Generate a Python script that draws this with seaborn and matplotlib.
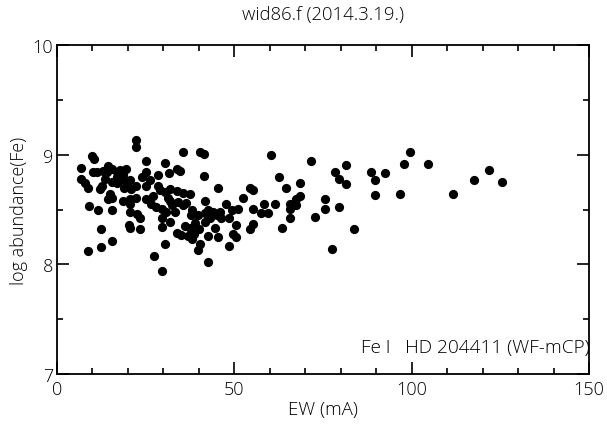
import matplotlib
matplotlib.use("Agg")
import matplotlib.pyplot as plt
import seaborn as sns
import pandas as pd
from matplotlib.ticker import MultipleLocator

ew = [22.4, 22.4, 9.8, 10.5, 6.7, 10.2, 11.2, 13.0, 14.4, 15.4, 14.0, 16.8, 17.7, 19.4, 25.2, 25.2,
      6.9, 7.9, 8.8, 12.1, 12.6, 17.7, 19.6, 20.5, 22.4, 21.0, 25.2, 13.5, 15.4, 16.8, 14.9, 15.4,
      14.4, 18.7, 20.5, 22.4, 25.2, 9.1, 11.6, 15.4, 20.5, 20.5, 22.6, 23.5, 12.4, 20.4, 20.5, 23.5,
      15.4, 12.4, 8.8,
      35.6, 40.4, 41.4, 30.4, 28.5, 31.6, 33.9, 34.6, 41.4, 45.4, 26.2, 28.5, 29.0, 30.4, 31.8, 33.7,
      35.6, 37.4, 31.3, 26.6, 28.0, 29.5, 30.7, 32.3, 33.2, 35.6, 36.5, 41.7, 47.6, 49.2, 51.0, 37.9,
      39.8, 41.7, 42.6, 43.5, 45.0, 46.3, 48.5, 41.7, 50.6, 29.5, 31.8, 29.5, 33.7, 35.1, 37.4, 37.0,
      38.6, 40.1, 38.2, 44.5, 42.6, 45.4, 49.6, 30.4, 40.2, 39.8, 48.5, 27.3, 42.6, 29.5,
      60.4, 71.5, 81.5, 62.6, 78.5, 79.6, 81.5, 54.5, 55.4, 68.6, 64.6, 52.4, 68.6, 67.5, 65.6, 65.6,
      67.5, 75.6, 75.6, 79.6, 58.5, 61.4, 55.4, 57.6, 59.5, 72.6, 65.6, 55.4, 54.5, 50.4, 63.5, 77.6,
      83.6, 88.6, 89.6, 92.6, 89.6, 99.6, 97.7, 104.6, 96.6, 111.6, 117.6, 121.7, 125.6,
      17.0, 18.5, 19.0, 24.0, 27.0, 32.0, 34.0, 38.0, 43.0, 44.0, 46.0, 36.0, 39.0]

abundance = [9.14, 9.07, 8.99, 8.96, 8.88, 8.84, 8.84, 8.85, 8.90, 8.87, 8.84, 8.84, 8.86, 8.87, 8.94, 8.84,
             8.78, 8.74, 8.70, 8.69, 8.72, 8.77, 8.75, 8.77, 8.72, 8.69, 8.72, 8.78, 8.75, 8.74, 8.64, 8.61,
             8.60, 8.58, 8.60, 8.61, 8.60, 8.53, 8.50, 8.50, 8.55, 8.48, 8.46, 8.42, 8.32, 8.36, 8.33, 8.32,
             8.21, 8.16, 8.12,
             9.03, 9.03, 9.01, 8.93, 8.82, 8.83, 8.87, 8.85, 8.81, 8.70, 8.77, 8.72, 8.68, 8.66, 8.69, 8.67,
             8.65, 8.64, 8.61, 8.55, 8.52, 8.51, 8.48, 8.54, 8.48, 8.54, 8.56, 8.58, 8.55, 8.50, 8.51, 8.45,
             8.45, 8.47, 8.50, 8.45, 8.45, 8.42, 8.42, 8.39, 8.36, 8.42, 8.39, 8.34, 8.29, 8.27, 8.33, 8.26,
             8.28, 8.32, 8.23, 8.33, 8.26, 8.25, 8.28, 8.19, 8.19, 8.13, 8.17, 8.08, 8.02, 7.94,
             9.00, 8.94, 8.91, 8.80, 8.84, 8.78, 8.73, 8.70, 8.68, 8.74, 8.70, 8.61, 8.62, 8.60, 8.55, 8.51,
             8.54, 8.60, 8.51, 8.52, 8.55, 8.55, 8.51, 8.47, 8.47, 8.43, 8.42, 8.37, 8.32, 8.25, 8.33, 8.14,
             8.32, 8.84, 8.77, 8.83, 8.63, 9.03, 8.92, 8.92, 8.64, 8.64, 8.77, 8.86, 8.75,
             8.80, 8.82, 8.70, 8.80, 8.62, 8.58, 8.57, 8.50, 8.42, 8.48, 8.48, 8.35, 8.38]

title = "wid86.f (2014.3.19.)"
xlabel = "EW (mA)"
ylabel = "log abundance(Fe)"
note = "Fe I   HD 204411 (WF-mCP)"
xticks = [0, 50, 100, 150]
yticks = [7, 8, 9, 10]

sns.set_theme(style="white")
plt.rcParams["font.family"] = ["Open Sans", "DejaVu Sans"]
plt.rcParams["font.weight"] = "light"
plt.rcParams["axes.titleweight"] = "light"
plt.rcParams["axes.labelweight"] = "light"

df = pd.DataFrame({"ew": ew, "ab": abundance})

fig = plt.figure(figsize=(6.07, 4.27), dpi=100)
ax = fig.add_axes([0.0939, 0.1218, 0.8765, 0.7698])
sns.scatterplot(data=df, x="ew", y="ab", ax=ax, color="black", s=44, edgecolor="black",
                linewidth=0, legend=False)

ax.set_xlim(0, 150)
ax.set_ylim(7, 10)
ax.set_xticks(xticks)
ax.set_yticks(yticks)
ax.xaxis.set_minor_locator(MultipleLocator(10))
ax.yaxis.set_minor_locator(MultipleLocator(0.5))
ax.tick_params(which="both", direction="in", top=True, right=True, bottom=True, left=True,
               color="black", width=1.2, labelsize=13, colors="black")
ax.tick_params(which="major", length=8.5, pad=3)
ax.tick_params(axis="x", which="major", pad=4.5)
ax.tick_params(which="minor", length=4.3)
for sp in ax.spines.values():
    sp.set_color("black")
    sp.set_linewidth(1.3)

ax.set_xlabel(xlabel, fontsize=13.5, color="black", labelpad=1, fontweight="light")
ax.set_ylabel(ylabel, fontsize=13, color="black", labelpad=3, fontweight="light")
ax.set_title(title, fontsize=13.3, color="black", pad=19, fontweight="light")
ax.text(85.8, 7.25, note, fontsize=13.7, color="black", ha="left", va="center",
        clip_on=False, fontweight="light")

fig.savefig("out.png", dpi=100)
